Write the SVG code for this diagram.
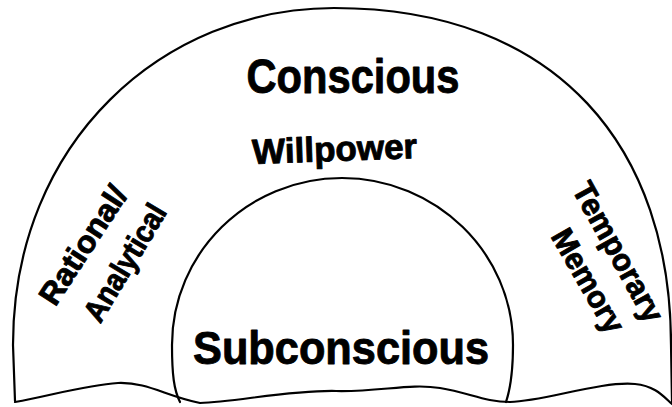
<svg xmlns="http://www.w3.org/2000/svg" width="672" height="407" viewBox="0 0 672 407">
<style>
.ln{fill:none;stroke:#000;stroke-width:2.2;stroke-linejoin:round;stroke-linecap:round}
.t{font-family:"Liberation Sans",Arial,sans-serif;font-weight:bold;fill:#000;stroke:#000;stroke-width:0.9;stroke-linejoin:round;text-anchor:middle}
</style>
<rect width="672" height="407" fill="#fff"/>
<g id="conscious">
<path class="ln" d="M15 401 L13 345 C13 140 165 8 334 8 C560 8 671 150 671 345 L672 402"/>
<text class="t" x="353" y="93" font-size="49" textLength="213" lengthAdjust="spacingAndGlyphs">Conscious</text>
<text class="t" x="335" y="161" font-size="35" textLength="165" lengthAdjust="spacingAndGlyphs" transform="rotate(-2 335 161)">Willpower</text>
<text class="t" font-size="31" textLength="135" lengthAdjust="spacingAndGlyphs" transform="translate(92 251) rotate(-57)">Rational/</text>
<text class="t" font-size="31" textLength="131" lengthAdjust="spacingAndGlyphs" transform="translate(134 268) rotate(-59)">Analytical</text>
<text class="t" font-size="31" textLength="155" lengthAdjust="spacingAndGlyphs" transform="translate(609 257) rotate(61)">Temporary</text>
<text class="t" font-size="31" textLength="115" lengthAdjust="spacingAndGlyphs" transform="translate(579 286) rotate(60)">Memory</text>
</g>
<g id="subconscious">
<path class="ln" d="M180 402 C174 390 172 375 172 345 C172 253 248 178 342 178 C436 178 513 253 513 345 C513 375 510 390 506 402"/>
<text class="t" x="341" y="364" font-size="46" textLength="296" lengthAdjust="spacingAndGlyphs">Subconscious</text>
</g>
<g id="connectors">
<path class="ln" d="M15 402 C50 396 85 385 118 383 C148 382 165 396 200 403 C235 402 290 390 336 391 C380 392 410 383 440 388 C470 393 485 402 510 402 C545 401 600 381 635 384 C655 386 663 396 672 404"/>
</g>
</svg>
